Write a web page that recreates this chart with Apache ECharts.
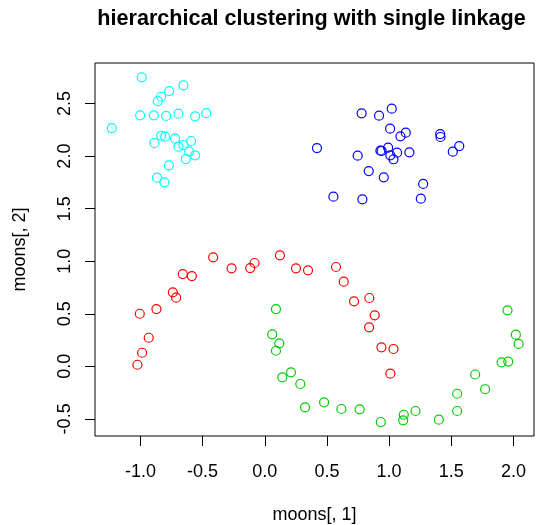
<!DOCTYPE html>
<html><head><meta charset="utf-8">
<script src="https://cdn.jsdelivr.net/npm/echarts@6/dist/echarts.min.js"></script>
<style>html,body{margin:0;padding:0;background:#fff}#c{width:536px;height:525px}</style>
</head><body><div id="c"></div>
<script>
const chartTitle = 'hierarchical clustering with single linkage';
const xName = 'moons[, 1]';
const yName = 'moons[, 2]';
const xTicks = [-1.0, -0.5, 0.0, 0.5, 1.0, 1.5, 2.0];
const yTicks = [-0.5, 0.0, 0.5, 1.0, 1.5, 2.0, 2.5];
const clusterNames = ['1', '2', '3', '4'];
const clusterColors = ['#FF0000', '#00CD00', '#0000FF', '#00FFFF'];

const redX = [-0.415,0.122,-0.267,-0.117,-0.082,-0.659,-0.586,-0.739,-0.713,-0.871,-1.005,-0.933,-0.986,-1.024,0.251,0.348,0.573,0.635,0.718,0.841,0.884,0.839,0.938,1.035,1.010];
const redY = [1.037,1.056,0.932,0.935,0.983,0.878,0.859,0.704,0.653,0.545,0.500,0.272,0.129,0.015,0.932,0.913,0.945,0.805,0.618,0.650,0.485,0.371,0.181,0.165,-0.070];

const greenX = [0.090,0.060,0.117,0.090,0.141,0.211,0.286,0.324,0.477,0.616,0.763,0.933,1.113,1.118,1.212,1.400,1.547,1.547,1.692,1.772,1.904,1.958,2.041,2.019,1.952];
const greenY = [0.545,0.304,0.219,0.148,-0.105,-0.057,-0.168,-0.390,-0.343,-0.406,-0.409,-0.530,-0.514,-0.461,-0.425,-0.508,-0.425,-0.261,-0.078,-0.218,0.038,0.045,0.213,0.301,0.533];

const blueX = [1.021,0.779,0.919,1.008,1.134,1.091,1.411,1.413,0.420,1.564,1.512,0.992,0.930,0.940,1.064,1.163,1.010,1.035,0.747,0.836,0.957,1.274,0.552,0.785,1.255];
const blueY = [2.451,2.407,2.385,2.261,2.223,2.188,2.210,2.182,2.077,2.096,2.042,2.080,2.052,2.049,2.033,2.036,2.008,1.970,2.004,1.858,1.798,1.735,1.614,1.589,1.595];

const cyanX = [-0.989,-0.654,-0.769,-0.833,-0.860,-1.002,-0.892,-0.793,-0.694,-0.560,-0.471,-1.230,-0.833,-0.801,-0.721,-0.592,-0.887,-0.654,-0.694,-0.608,-0.560,-0.635,-0.771,-0.866,-0.807];
const cyanY = [2.750,2.674,2.619,2.565,2.524,2.388,2.388,2.382,2.404,2.379,2.410,2.267,2.194,2.185,2.166,2.144,2.125,2.106,2.090,2.046,2.008,1.972,1.912,1.795,1.751];

const clusterXs = [redX, greenX, blueX, cyanX];
const clusterYs = [redY, greenY, blueY, cyanY];

const FONT = '"Liberation Sans", Arial, Helvetica, sans-serif';
const chart = echarts.init(document.getElementById('c'), null, {renderer: 'canvas'});

const series = clusterXs.map((xs, i) => ({
  name: clusterNames[i],
  type: 'scatter',
  symbol: 'circle',
  symbolSize: 9,
  data: xs.map((x, j) => [x, clusterYs[i][j]]),
  itemStyle: {color: 'rgba(0,0,0,0)', borderColor: clusterColors[i], borderWidth: 1.2, opacity: 1},
  emphasis: {disabled: true},
  silent: true
}));

chart.setOption({
  animation: false,
  backgroundColor: '#ffffff',
  title: {
    text: chartTitle,
    left: 311.5, top: 8, textAlign: 'center', padding: 0,
    textStyle: {fontFamily: FONT, fontWeight: 'bold', fontSize: 21.6, lineHeight: 23, color: '#000'}
  },
  grid: {left: 95, top: 63, right: 2, bottom: 89, show: true, borderColor: '#000', borderWidth: 1,
         backgroundColor: 'transparent', containLabel: false, outerBoundsMode: 'none'},
  xAxis: {
    type: 'value', min: -1.365, max: 2.165, position: 'bottom',
    name: xName, nameLocation: 'middle', nameGap: 70,
    nameTextStyle: {fontFamily: FONT, fontSize: 18, color: '#000', lineHeight: 18},
    axisLine: {show: false, onZero: false},
    splitLine: {show: false},
    axisTick: {show: true, inside: false, customValues: xTicks, length: 10, lineStyle: {color: '#000', width: 1}},
    axisLabel: {customValues: xTicks, formatter: v => v.toFixed(1), fontFamily: FONT, fontSize: 18,
                color: '#000', margin: 27, lineHeight: 18}
  },
  yAxis: {
    type: 'value', min: -0.663, max: 2.886, position: 'left',
    name: yName, nameLocation: 'middle', nameGap: 66,
    nameTextStyle: {fontFamily: FONT, fontSize: 18, color: '#000', lineHeight: 18},
    axisLine: {show: false, onZero: false},
    splitLine: {show: false},
    axisTick: {show: true, inside: false, customValues: yTicks, length: 10, lineStyle: {color: '#000', width: 1}},
    axisLabel: {customValues: yTicks, formatter: v => v.toFixed(1), rotate: 90, fontFamily: FONT, fontSize: 18,
                color: '#000', margin: 21, lineHeight: 18}
  },
  series: series
});
</script></body></html>
